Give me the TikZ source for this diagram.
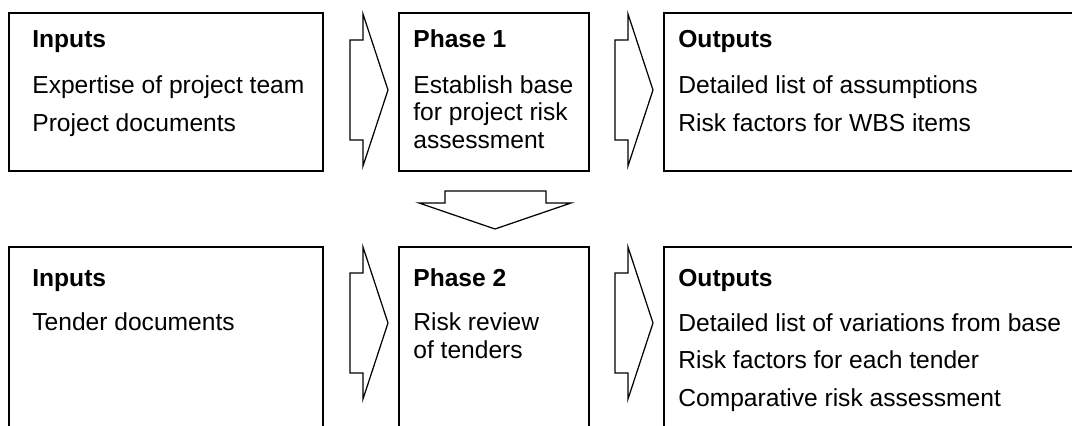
\documentclass[tikz,border=0pt]{standalone}
\usepackage{fontspec}
\setmainfont{Liberation Sans}
\begin{document}
\begin{tikzpicture}[x=0.02cm, y=-0.02cm,
    boxline/.style={line width=.8pt},
    arrowline/.style={line width=.7pt, line join=miter},
    heading/.style={anchor=base west, inner sep=0, font=\fontsize{14}{16}\selectfont\bfseries},
    item/.style={anchor=base west, inner sep=0, font=\fontsize{14}{16}\selectfont}]

    \useasboundingbox (0,0) rectangle (1072,426);
    \clip (0,0) rectangle (1072,426);

    % Draw boxes of phase 1 row
    \draw[boxline] (9,13) rectangle (323,171);
    \draw[boxline] (399,13) rectangle (589,171);
    \draw[boxline] (664,13) rectangle (1100,171);

    % Draw boxes of phase 2 row (cut at the bottom)
    \draw[boxline] (9,247) rectangle (323,460);
    \draw[boxline] (399,247) rectangle (589,460);
    \draw[boxline] (664,247) rectangle (1100,460);

    % Block arrows between the boxes
    \foreach \x/\y in {350/90, 615/90, 350/323, 615/323}
        \draw[arrowline] (\x,\y-50) -- (\x+13,\y-50) -- (\x+13,\y-76) -- (\x+38,\y)
            -- (\x+13,\y+76) -- (\x+13,\y+50) -- (\x,\y+50) -- cycle;

    % Block arrow down from phase 1 to phase 2
    \draw[arrowline] (445,191) -- (546,191) -- (546,203) -- (571,203) -- (495,229)
        -- (419,203) -- (445,203) -- cycle;

    % Phase 1 texts
    \node[heading] (inhead1) at (32,48) {Inputs};
    \node[item] (expertise) at (32,93) {Expertise of project team};
    \node[item] (projdocs) at (32,131) {Project documents};

    \node[heading] (phase1) at (413,48) {Phase 1};
    \node[item] (establish) at (413,93) {Establish base};
    \node[item] (forrisk) at (413,120) {for project risk};
    \node[item] (assess) at (413,148) {assessment};

    \node[heading] (outhead1) at (678,48) {Outputs};
    \node[item] (assumptions) at (678,93) {Detailed list of assumptions};
    \node[item] (wbs) at (678,131) {Risk factors for WBS items};

    % Phase 2 texts
    \node[heading] (inhead2) at (32,286) {Inputs};
    \node[item] (tenderdocs) at (32,330) {Tender documents};

    \node[heading] (phase2) at (413,286) {Phase 2};
    \node[item] (riskreview) at (413,330) {Risk review};
    \node[item] (oftenders) at (413,358) {of tenders};

    \node[heading] (outhead2) at (678,286) {Outputs};
    \node[item] (variations) at (678,331) {Detailed list of variations from base};
    \node[item] (eachtender) at (678,368) {Risk factors for each tender};
    \node[item] (comparative) at (678,406) {Comparative risk assessment};

\end{tikzpicture}
\end{document}
